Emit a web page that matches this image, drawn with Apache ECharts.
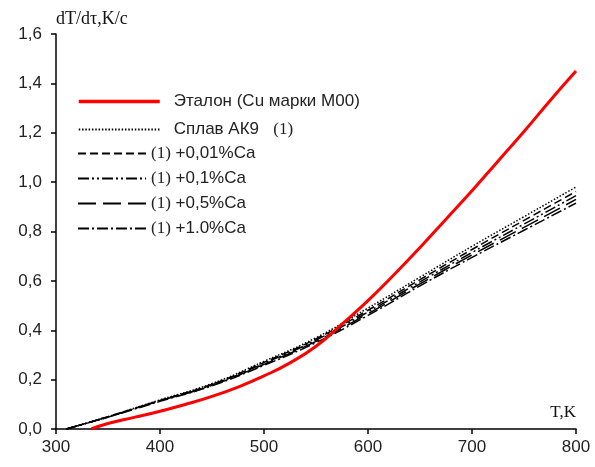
<!DOCTYPE html>
<html>
<head>
<meta charset="utf-8">
<script src="https://cdn.jsdelivr.net/npm/echarts@6/dist/echarts.min.js"></script>
<style>
html,body{margin:0;padding:0;background:#fff;}
#chart{width:595px;height:467px;}
</style>
</head>
<body>
<div id="chart"></div>
<script>
// ---- data ----
var tRed = [334, 350, 375, 400, 425, 450, 475, 500, 525, 550, 575, 600, 625, 650, 675, 700, 725, 750, 775, 800];
var etalon = [0, 0.022, 0.047, 0.072, 0.1, 0.132, 0.17, 0.215, 0.268, 0.335, 0.425, 0.52, 0.625, 0.735, 0.85, 0.965, 1.085, 1.205, 1.33, 1.45];

var tAlloy = [310, 350, 400, 450, 500, 550, 600, 650, 700, 750, 800];
var ak9    = [0, 0.05, 0.118, 0.184, 0.274, 0.37, 0.49, 0.615, 0.74, 0.86, 0.98];
var ca001  = [0, 0.05, 0.116, 0.181, 0.27, 0.365, 0.481, 0.605, 0.727, 0.845, 0.962];
var ca01   = [0, 0.049, 0.115, 0.179, 0.266, 0.36, 0.474, 0.596, 0.715, 0.83, 0.945];
var ca05   = [0, 0.049, 0.114, 0.177, 0.262, 0.355, 0.467, 0.588, 0.705, 0.817, 0.93];
var ca10   = [0, 0.048, 0.112, 0.175, 0.258, 0.35, 0.46, 0.58, 0.695, 0.805, 0.915];

var names = ['Эталон (Cu марки М00)', 'Сплав АК9   (1)', '(1) +0,01%Ca', '(1) +0,1%Ca', '(1) +0,5%Ca', '(1) +1.0%Ca'];
var xTicks = [300, 400, 500, 600, 700, 800];
var yTicks = [0, 0.2, 0.4, 0.6, 0.8, 1.0, 1.2, 1.4, 1.6];

function pairs(xs, ys) { return xs.map(function (x, i) { return [x, ys[i]]; }); }

var sans = 'Liberation Sans, Arial, sans-serif';
var serif = 'Liberation Serif, Times New Roman, serif';

function legendFmt(name) {
  if (name.indexOf('(1) ') === 0) {
    return '{n|(1)}{a|' + name.slice(3) + '}';
  }
  if (name.indexOf('(1)') > 0) {
    return '{a|' + name.replace('(1)', '') + '}{n|(1)}';
  }
  return '{a|' + name + '}';
}

var chart = echarts.init(document.getElementById('chart'));
var option = {
  animation: false,
  backgroundColor: '#fff',
  grid: { left: 56, right: 19, top: 34, bottom: 38, containLabel: false },
  xAxis: {
    type: 'value', min: 300, max: 800, interval: 100,
    name: 'T,K', nameLocation: 'end', nameGap: 0,
    nameTextStyle: { fontFamily: serif, fontSize: 17, color: '#111', align: 'right', verticalAlign: 'bottom', padding: [0, 0, 8, 0] },
    axisLine: { show: true, lineStyle: { color: '#000', width: 1.5 } },
    axisTick: { show: true, inside: false, length: 5, lineStyle: { color: '#000', width: 1.5 } },
    axisLabel: { fontFamily: sans, fontSize: 17, color: '#222', margin: 10,
      formatter: function (v) { return xTicks.indexOf(v) >= 0 ? String(v) : ''; } },
    splitLine: { show: false }
  },
  yAxis: {
    type: 'value', min: 0, max: 1.6, interval: 0.2,
    name: 'dT/dτ,K/c', nameLocation: 'end', nameGap: 6,
    nameTextStyle: { fontFamily: serif, fontSize: 18, color: '#111', align: 'left', verticalAlign: 'bottom' },
    axisLine: { show: true, lineStyle: { color: '#000', width: 1.5 } },
    axisTick: { show: true, inside: false, length: 5, lineStyle: { color: '#000', width: 1.5 } },
    axisLabel: { fontFamily: sans, fontSize: 17, color: '#222', margin: 14,
      formatter: function (v) {
        var t = yTicks.filter(function (y) { return Math.abs(y - v) < 1e-6; });
        return t.length ? t[0].toFixed(1).replace('.', ',') : '';
      } },
    splitLine: { show: false }
  },
  legend: [
    {
      orient: 'vertical', left: 72, top: 88, itemWidth: 81, itemHeight: 14, itemGap: 11,
      selectedMode: false,
      data: [{ name: names[0], lineStyle: { width: 3.5 } }, { name: names[1] }],
      itemStyle: { opacity: 0 },
      formatter: legendFmt,
      textStyle: { color: '#222', fontFamily: sans, fontSize: 17,
        rich: { a: { fontFamily: sans, fontSize: 17, color: '#222', padding: [0, 0, 0, 9] },
                n: { fontFamily: serif, fontSize: 17, color: '#222' } } }
    },
    {
      orient: 'vertical', left: 72, top: 140, itemWidth: 68, itemHeight: 14, itemGap: 8,
      selectedMode: false, data: [names[2], names[3], names[4], names[5]],
      itemStyle: { opacity: 0 },
      formatter: legendFmt,
      textStyle: { color: '#222', fontFamily: sans, fontSize: 17,
        rich: { a: { fontFamily: sans, fontSize: 17, color: '#222' },
                n: { fontFamily: serif, fontSize: 17, color: '#222' } } }
    }
  ],
  series: [
    { name: names[1], type: 'line', symbol: 'none', smooth: true, data: pairs(tAlloy, ak9),
      lineStyle: { color: '#000', width: 1.5, type: [1.5, 1.8] } },
    { name: names[2], type: 'line', symbol: 'none', smooth: true, data: pairs(tAlloy, ca001),
      lineStyle: { color: '#000', width: 1.5, type: [8, 4] } },
    { name: names[3], type: 'line', symbol: 'none', smooth: true, data: pairs(tAlloy, ca01),
      lineStyle: { color: '#000', width: 1.5, type: [11, 3, 2, 3, 2, 3] } },
    { name: names[4], type: 'line', symbol: 'none', smooth: true, data: pairs(tAlloy, ca05),
      lineStyle: { color: '#000', width: 1.5, type: [18, 7] } },
    { name: names[5], type: 'line', symbol: 'none', smooth: true, data: pairs(tAlloy, ca10),
      lineStyle: { color: '#000', width: 1.5, type: [11, 3, 2, 3] } },
    { name: names[0], type: 'line', symbol: 'none', smooth: true, data: pairs(tRed, etalon),
      lineStyle: { color: '#ff0000', width: 3 }, z: 5 }
  ]
};
chart.setOption(option);
</script>
</body>
</html>
